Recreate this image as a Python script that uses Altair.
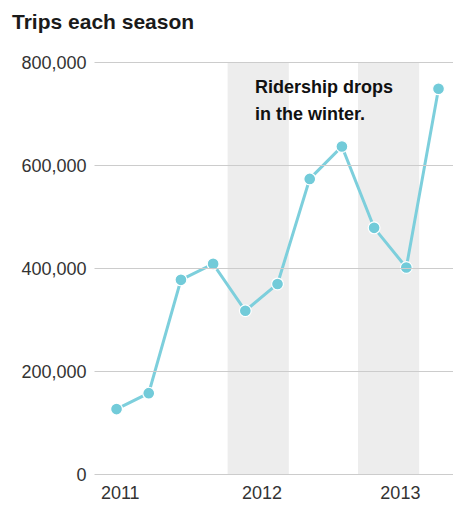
import altair as alt
import pandas as pd

# ---- data ----
season_index = list(range(11))
trips = [126000, 157000, 377000, 408000, 317000, 369000, 573000, 636000, 478000, 401000, 748000]

year_labels = ["2011", "2012", "2013"]
year_tick_pos = [0.1, 4.5, 8.8]

winter_start = [3.45, 7.5]
winter_end = [5.35, 9.4]

y_ticks = [0, 200000, 400000, 600000, 800000]

annotation_lines = ["Ridership drops", "in the winter."]
annotation_x = [4.3, 4.3]
annotation_y = [739000, 688000]

# ---- tables ----
df = pd.DataFrame({"season": season_index, "trips": trips})
bands = pd.DataFrame({"start": winter_start, "end": winter_end})
notes = pd.DataFrame({"text": annotation_lines, "x": annotation_x, "y": annotation_y})

FONT = "Liberation Sans"
LINE_COLOR = "#7dcfdc"

label_expr = " : ".join(
    f"abs(datum.value - {p}) < 0.01 ? '{t}'" for p, t in zip(year_tick_pos, year_labels)
) + " : ''"

x_scale = alt.Scale(domain=[-0.7, 10.45], nice=False, zero=False)
y_scale = alt.Scale(domain=[0, 800000], nice=False)

x_axis = alt.Axis(
    values=year_tick_pos,
    labelExpr=label_expr,
    title=None,
    grid=False,
    domain=False,
    ticks=False,
    labelPadding=10,
    labelFontSize=18,
    labelFont=FONT,
    labelColor="#333333",
    labelAlign="center",
)
y_axis = alt.Axis(
    values=y_ticks,
    labelExpr="format(datum.value, ',')",
    title=None,
    grid=True,
    gridColor="#cccccc",
    gridWidth=1,
    domain=False,
    ticks=False,
    labelPadding=8,
    labelOffset=1.5,
    labelFontSize=18,
    labelFont=FONT,
    labelColor="#333333",
    zindex=1,
)

band_layer = alt.Chart(bands).mark_rect(color="#ededed").encode(
    x=alt.X("start:Q", scale=x_scale, axis=x_axis),
    x2="end:Q",
    y=alt.YDatum(800000, scale=y_scale, axis=y_axis, type="quantitative"),
    y2=alt.datum(0),
)

line_layer = alt.Chart(df).mark_line(color=LINE_COLOR, strokeWidth=3).encode(
    x=alt.X("season:Q", scale=x_scale, axis=x_axis),
    y=alt.Y("trips:Q", scale=y_scale, axis=y_axis),
)

point_layer = alt.Chart(df).mark_circle(
    color="#72cbd9", size=140, opacity=1, stroke="white", strokeWidth=1.2
).encode(
    x=alt.X("season:Q", scale=x_scale, axis=x_axis),
    y=alt.Y("trips:Q", scale=y_scale, axis=y_axis),
)

note_layer = alt.Chart(notes).mark_text(
    align="left", baseline="alphabetic", font=FONT, fontSize=18, fontWeight="bold", color="#111111"
).encode(
    x=alt.X("x:Q", scale=x_scale, axis=x_axis),
    y=alt.Y("y:Q", scale=y_scale, axis=y_axis),
    text="text:N",
)

chart = (
    alt.layer(band_layer, line_layer, point_layer, note_layer)
    .properties(
        width=359,
        height=412,
        padding={"left": 86, "top": 54, "right": 0, "bottom": 28},
        autosize=alt.AutoSizeParams(type="none"),
        title=alt.TitleParams(
            "Trips each season",
            anchor="start",
            frame="group",
            font=FONT,
            fontSize=21,
            fontWeight="bold",
            color="#1a1a1a",
            baseline="alphabetic",
            dx=-82,
            dy=-1,
        ),
    )
    .configure_view(stroke=None)
)

chart.save("out.html", embed_options={"renderer": "svg", "actions": False})
